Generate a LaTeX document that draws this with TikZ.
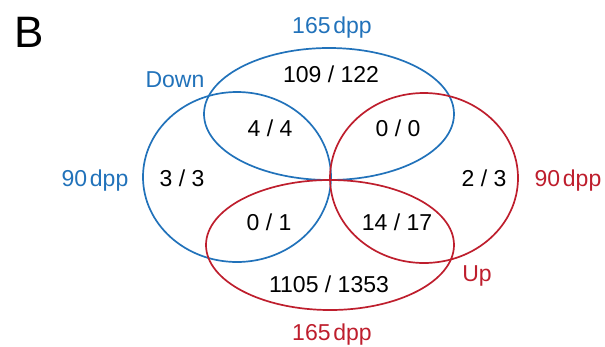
\documentclass[tikz,border=0pt]{standalone}
\usepackage{fontspec}
\setmainfont{Liberation Sans}
\definecolor{vblue}{RGB}{33,114,186}
\definecolor{vred}{RGB}{190,30,45}
\begin{document}
\begin{tikzpicture}[x=1pt,y=-1pt,
  lbl/.style={anchor=base,inner sep=0pt,font=\fontsize{23}{27}\selectfont},
  blbl/.style={lbl,text=vblue},
  rlbl/.style={lbl,text=vred},
  bset/.style={draw=vblue,line width=1.7pt},
  rset/.style={draw=vred,line width=1.7pt}]
\useasboundingbox (0,0) rectangle (605,346);
\coordinate (cBL) at (237,177);
\coordinate (cBT) at (329,114);
\coordinate (cRR) at (424,178);
\coordinate (cRB) at (330,245);
\draw[bset] (cBL) ellipse [x radius=94pt, y radius=85pt];
\draw[bset] (cBT) ellipse [x radius=125pt, y radius=66pt];
\draw[rset] (cRR) ellipse [x radius=94pt, y radius=85pt];
\draw[rset] (cRB) ellipse [x radius=124pt, y radius=65pt];
\node[anchor=base,inner sep=0pt,font=\fontsize{44}{50}\selectfont] (B) at (29,47) {B};
\node[blbl] (t165) at (332,33) {165\hspace{0.12em}dpp};
\node[blbl] (down) at (175,87) {Down};
\node[blbl] (l90) at (95,186) {90\hspace{0.12em}dpp};
\node[rlbl] (r90) at (568,186) {90\hspace{0.12em}dpp};
\node[rlbl] (up) at (477,281) {Up};
\node[rlbl] (b165) at (332,340) {165\hspace{0.12em}dpp};
\node[lbl] (n1) at (331,82) {109 / 122};
\node[lbl] (n2) at (270,136) {4 / 4};
\node[lbl] (n3) at (398,136) {0 / 0};
\node[lbl] (n4) at (182,186) {3 / 3};
\node[lbl] (n5) at (484,186) {2 / 3};
\node[lbl] (n6) at (269,230) {0 / 1};
\node[lbl] (n7) at (397,230) {14 / 17};
\node[lbl] (n8) at (329,292) {1105 / 1353};
\end{tikzpicture}
\end{document}
